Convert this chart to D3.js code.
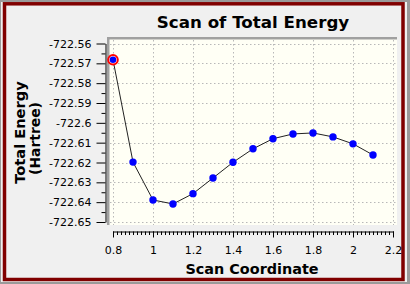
<!DOCTYPE html>
<html>
<head>
<meta charset="utf-8">
<script src="https://cdn.jsdelivr.net/npm/d3@7"></script>
<style>
  html, body { margin: 0; padding: 0; background: #f0f0f0; }
  svg { display: block; }
  text { font-family: "DejaVu Sans", Verdana, sans-serif; fill: #000; }
</style>
</head>
<body>
<svg id="chart" width="410" height="284"></svg>
<script>
// scan data
const scanCoord = [0.8, 0.9, 1.0, 1.1, 1.2, 1.3, 1.4, 1.5, 1.6, 1.7, 1.8, 1.9, 2.0, 2.1];
const totalEnergy = [-722.5682, -722.6198, -722.6389, -722.6409, -722.6357, -722.6278,
                     -722.6199, -722.6131, -722.6080, -722.6056, -722.6051, -722.6071,
                     -722.6106, -722.6162];
const xTicks = [0.8, 1, 1.2, 1.4, 1.6, 1.8, 2, 2.2];
const yTicks = [-722.56, -722.57, -722.58, -722.59, -722.6, -722.61, -722.62, -722.63, -722.64, -722.65];
const highlighted = 0; // index of the selected point

const data = scanCoord.map((c, i) => ({ c, e: totalEnergy[i] }));

const svg = d3.select("#chart");

// window frame
svg.append("rect").attr("width", 410).attr("height", 284).attr("fill", "#9a9a9a");
svg.append("rect").attr("x", 1).attr("y", 2).attr("width", 406).attr("height", 280).attr("fill", "#f0f0f0");
svg.append("rect")
    .attr("x", 4.5).attr("y", 3.8)
    .attr("width", 398.5).attr("height", 275.7)
    .attr("fill", "none")
    .attr("stroke", "#800000")
    .attr("stroke-width", 3.5);

const x = d3.scaleLinear().domain([0.8, 2.2]).range([113, 393]);
const y = d3.scaleLinear().domain([-722.65, -722.56]).range([222, 43.5]);

// plot panel
svg.append("rect").attr("x", 107).attr("y", 37).attr("width", 290).attr("height", 188).attr("fill", "#a0a0a0");
svg.append("rect").attr("x", 109.5).attr("y", 39.5).attr("width", 287.5).attr("height", 185.5).attr("fill", "#fffff5");

// dotted grid
const grid = svg.append("g")
    .attr("stroke", "#b8b8b8")
    .attr("stroke-width", 1)
    .attr("stroke-dasharray", "1.5,2.5");
grid.selectAll(".gx").data(xTicks).join("line")
    .attr("x1", d => Math.round(x(d)) + 0.5).attr("x2", d => Math.round(x(d)) + 0.5)
    .attr("y1", 40).attr("y2", 225);
grid.selectAll(".gy").data(yTicks).join("line")
    .attr("y1", d => Math.round(y(d)) + 0.5).attr("y2", d => Math.round(y(d)) + 0.5)
    .attr("x1", 110).attr("x2", 397);

// y axis, offset to the left of the panel
const yMinor = d3.range(0, 18).map(i => -722.645 + i * 0.01).filter(v => v < -722.559);
const yAxis = svg.append("g").attr("transform", "translate(105.5,0)");
yAxis.append("g")
    .call(d3.axisLeft(y).tickValues(yMinor).tickSize(4).tickFormat(""))
    .call(g => g.select(".domain").remove());
yAxis.append("g")
    .call(d3.axisLeft(y).tickValues(yTicks).tickSize(9).tickSizeOuter(0).tickPadding(5)
        .tickFormat(d => d3.format(".2f")(d).replace(/0$/, "").replace("−", "-")))
    .call(g => g.selectAll("text").style("font-size", "11px").attr("fill", "#000"));
yAxis.selectAll("line, path").attr("stroke", "#000");

// x axis, below the panel
const xMinor = d3.range(0, 71).map(i => 0.8 + i * 0.02);
const xAxis = svg.append("g").attr("transform", "translate(0,231.5)");
xAxis.append("g")
    .call(d3.axisBottom(x).tickValues(xMinor).tickSize(3.5).tickFormat(""))
    .call(g => g.select(".domain").remove());
xAxis.append("g")
    .call(d3.axisBottom(x).tickValues(xTicks).tickSize(6).tickSizeOuter(0).tickPadding(9)
        .tickFormat(d3.format("~g")))
    .call(g => g.selectAll("text").style("font-size", "11px").attr("fill", "#000"));
xAxis.selectAll("line, path").attr("stroke", "#000");

// line + points
svg.append("path")
    .datum(data)
    .attr("fill", "none")
    .attr("stroke", "#222")
    .attr("stroke-width", 1)
    .attr("d", d3.line().x(d => x(d.c)).y(d => y(d.e)));

svg.append("circle")
    .attr("cx", x(data[highlighted].c)).attr("cy", y(data[highlighted].e))
    .attr("r", 4.8)
    .attr("fill", "#fff")
    .attr("stroke", "#ff0000")
    .attr("stroke-width", 2);

svg.selectAll(".pt").data(data).join("circle")
    .attr("cx", d => x(d.c)).attr("cy", d => y(d.e))
    .attr("r", (d, i) => i === highlighted ? 3.3 : 3.7)
    .attr("fill", "#0000ff");

// titles
svg.append("text")
    .attr("x", 253).attr("y", 28.3)
    .attr("text-anchor", "middle")
    .style("font-size", "16.7px").style("font-weight", "bold")
    .text("Scan of Total Energy");

svg.append("text")
    .attr("x", 252).attr("y", 273.5)
    .attr("text-anchor", "middle")
    .style("font-size", "14.4px").style("font-weight", "bold")
    .text("Scan Coordinate");

svg.append("text")
    .attr("transform", "translate(25,132.5) rotate(-90)")
    .attr("text-anchor", "middle")
    .style("font-size", "14.6px").style("font-weight", "bold")
    .text("Total Energy");

svg.append("text")
    .attr("transform", "translate(40,138.5) rotate(-90)")
    .attr("text-anchor", "middle")
    .style("font-size", "13.9px").style("font-weight", "bold")
    .text("(Hartree)");
</script>
</body>
</html>
